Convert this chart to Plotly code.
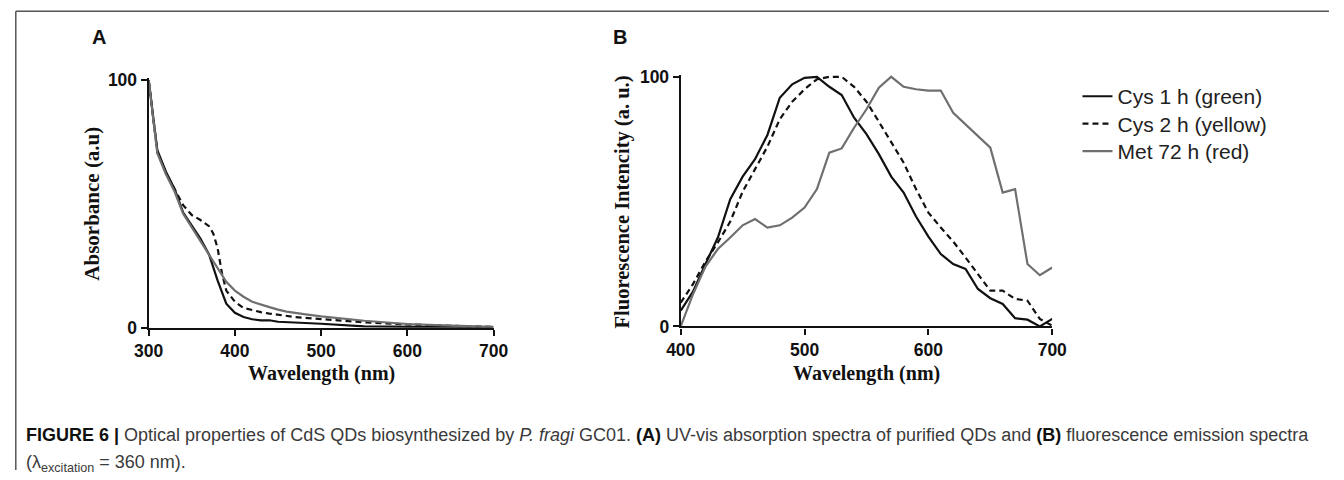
import plotly.graph_objects as go

W, H = 1344, 480

# ---------------- Data ----------------
# Panel A: UV-vis absorbance
abs_wl_cys1 = [300, 310, 320, 330, 340, 350, 360, 370, 380, 390, 400, 410, 420, 430, 440, 450, 470, 500, 550, 600, 650, 700]
abs_cys1 = [100, 71.7, 63, 56, 46.5, 41, 36, 29.6, 19, 9.7, 6, 4.3, 3.4, 3, 3, 2.4, 2.2, 1.6, 0.5, 0.3, 0.2, 0]

abs_wl_cys2 = [300, 310, 320, 330, 340, 350, 360, 370, 375, 380, 385, 390, 400, 410, 420, 430, 440, 450, 470, 500, 550, 600, 650, 690, 700]
abs_cys2 = [100, 71, 62.5, 56, 49.5, 45.5, 43.5, 41, 38, 32, 22, 15, 10.5, 8, 7, 6.3, 5.7, 5.2, 4.3, 3.5, 2.2, 1.3, 0.8, 0.5, 0.3]

abs_wl_met = [300, 310, 320, 330, 340, 350, 360, 370, 380, 390, 400, 410, 420, 430, 440, 450, 460, 480, 500, 550, 600, 650, 700]
abs_met = [100, 70.5, 62, 55, 46, 40.5, 35.5, 30, 24, 18.5, 15, 12.5, 10.5, 9.3, 8.3, 7.3, 6.5, 5.5, 4.6, 2.8, 1.5, 0.8, 0.3]

# Panel B: fluorescence emission
fl_wl = [400, 410, 420, 430, 440, 450, 460, 470, 480, 490, 500, 510, 520, 530, 540, 550,
         560, 570, 580, 590, 600, 610, 620, 630, 640, 650, 660, 670, 680, 690, 700]
fl_cys1 = [6.3, 14, 25, 35.6, 51, 60, 67, 76.7, 91.6, 97, 99.6, 100, 96, 92.7, 83.6, 77,
           69, 60, 53.6, 44, 36, 29, 25, 23, 15, 11.3, 9, 3.3, 2.7, 0, 3]
fl_cys2 = [9.5, 17, 26, 33.6, 42, 54, 63, 72, 83, 90, 95, 99, 100, 100, 96, 90,
           82, 74, 65.6, 55, 45.6, 39.6, 34, 27.6, 21, 14.3, 14.3, 11, 10.3, 3, 0.3]
fl_met = [0, 13, 24, 31, 35.6, 40.5, 43, 39.6, 40.5, 43.6, 47.6, 55, 69.6, 71.3, 79.6, 87,
          95.6, 100, 96, 95, 94.5, 94.5, 85.6, 81, 76, 71.6, 53.6, 55, 25, 20.5, 23.6]

series_names = ["Cys 1 h (green)", "Cys 2 h (yellow)", "Met 72 h (red)"]
abs_ticks_x = [300, 400, 500, 600, 700]
fl_ticks_x = [400, 500, 600, 700]
ticks_y = [0, 100]

# ---------------- Styles ----------------
BLACK = "#111111"
GRAY = "#6f6f6f"
styles = [dict(color=BLACK, width=2.2, dash="solid"),
          dict(color=BLACK, width=2.2, dash="6px,4px"),
          dict(color=GRAY, width=2.2, dash="solid")]

# screenshot mapping compensation (observed = O + S * page)
OX, SX, OY, SY = 12.0, 0.98, 6.8, 0.964


def rx(p):  # reference px -> paper fraction
    return ((p - OX) / SX) / W


def ry(p):
    return 1 - ((p - OY) / SY) / H


fig = go.Figure()

for wl, vals, name, st in zip([abs_wl_cys1, abs_wl_cys2, abs_wl_met], [abs_cys1, abs_cys2, abs_met], series_names, styles):
    fig.add_trace(go.Scatter(x=wl, y=vals, mode="lines", name=name, line=st,
                             xaxis="x", yaxis="y", showlegend=False))

legend_ids = ["legend", "legend2", "legend3"]
for vals, name, st, lg in zip([fl_cys1, fl_cys2, fl_met], series_names, styles, legend_ids):
    fig.add_trace(go.Scatter(x=fl_wl, y=vals, mode="lines", name=name, line=st,
                             xaxis="x2", yaxis="y2", showlegend=True, legend=lg))

SANS = "Liberation Sans, Arial, sans-serif"
tickfont = dict(family=SANS, size=17.5, color="#111", weight="bold")
axis_common = dict(showline=True, linecolor=BLACK, linewidth=2.2, ticks="outside",
                   ticklen=6, tickwidth=2.2, tickcolor=BLACK, showgrid=False,
                   zeroline=False, tickfont=tickfont, fixedrange=True)


def top_of(y0, y100, frac=0.008):
    return y100 - (y0 - y100) * frac


yA0, yA100 = 327, 79
yB0, yB100 = 325.7, 75.7

legend_rows = [96, 123.5, 151]  # reference centre of each legend row (px)
legend_style = dict(xanchor="left", yanchor="top", font=dict(family=SANS, size=21, color="#222"),
                    bgcolor="rgba(0,0,0,0)", itemwidth=30)

fig.update_layout(
    width=W, height=H,
    margin=dict(l=0, r=0, t=0, b=0),
    paper_bgcolor="white", plot_bgcolor="white",
    xaxis=dict(domain=[rx(146), rx(491.7)], range=[300, 700], tickvals=abs_ticks_x,
               anchor="y", **axis_common),
    yaxis=dict(domain=[ry(yA0), ry(top_of(yA0, yA100))], range=[0, 100.8], tickvals=ticks_y,
               anchor="x", **axis_common),
    xaxis2=dict(domain=[rx(679.3), rx(1051.7)], range=[400, 700], tickvals=fl_ticks_x,
                anchor="y2", **axis_common),
    yaxis2=dict(domain=[ry(yB0), ry(top_of(yB0, yB100))], range=[0, 100.8], tickvals=ticks_y,
                anchor="x2", **axis_common),
    legend=dict(x=rx(1077), y=ry(legend_rows[0] - 21), **legend_style),
    legend2=dict(x=rx(1077), y=ry(legend_rows[1] - 21), **legend_style),
    legend3=dict(x=rx(1077), y=ry(legend_rows[2] - 21), **legend_style),
    showlegend=True,
)

serif = "Liberation Serif, Times New Roman, serif"
cap_font = dict(family=SANS, size=18, color="#3a3a3a")
annotations = [
    dict(text="<b>Wavelength (nm)</b>", x=rx(318.8), y=ry(373), xref="paper", yref="paper",
         showarrow=False, xanchor="center", yanchor="middle", font=dict(family=serif, size=20, color="#111")),
    dict(text="<b>Absorbance (a.u)</b>", x=rx(89), y=ry(203), xref="paper", yref="paper",
         showarrow=False, xanchor="center", yanchor="middle", textangle=-90,
         font=dict(family=serif, size=21, color="#111")),
    dict(text="<b>Wavelength (nm)</b>", x=rx(865.5), y=ry(373), xref="paper", yref="paper",
         showarrow=False, xanchor="center", yanchor="middle", font=dict(family=serif, size=20, color="#111")),
    dict(text="<b>Fluorescence Intencity (a. u.)</b>", x=rx(621), y=ry(201), xref="paper", yref="paper",
         showarrow=False, xanchor="center", yanchor="middle", textangle=-90,
         font=dict(family=serif, size=20.5, color="#111")),
    dict(text="<b>A</b>", x=rx(96), y=ry(36), xref="paper", yref="paper", showarrow=False,
         xanchor="center", yanchor="middle", font=dict(family=SANS, size=20, color="#111")),
    dict(text="<b>B</b>", x=rx(618), y=ry(36), xref="paper", yref="paper", showarrow=False,
         xanchor="center", yanchor="middle", font=dict(family=SANS, size=20, color="#111")),
    dict(text="<b style='color:#111'>FIGURE 6 |</b> Optical properties of CdS QDs biosynthesized by <i>P. fragi</i> GC01. "
              "<b style='color:#111'>(A)</b> UV-vis absorption spectra of purified QDs and "
              "<b style='color:#111'>(B)</b> fluorescence emission spectra",
         x=rx(21), y=ry(434), xref="paper", yref="paper", showarrow=False, xanchor="left", yanchor="middle",
         font=cap_font),
    dict(text="(λ<sub>excitation</sub> = 360 nm).",
         x=rx(21), y=ry(463), xref="paper", yref="paper", showarrow=False, xanchor="left", yanchor="middle",
         font=cap_font),
]
fig.update_layout(annotations=annotations)

fig.add_shape(type="line", xref="paper", yref="paper", x0=max(rx(8), 0.0006), x1=1.0, y0=ry(10), y1=ry(10),
              line=dict(color="#555", width=1.5))
fig.add_shape(type="line", xref="paper", yref="paper", x0=max(rx(8), 0.0006), x1=max(rx(8), 0.0006),
              y0=ry(10), y1=0, line=dict(color="#555", width=1.5))

fig.write_html("out.html", config={"displayModeBar": False},
               post_script="document.body.style.margin='0px';document.body.style.overflow='hidden';")
